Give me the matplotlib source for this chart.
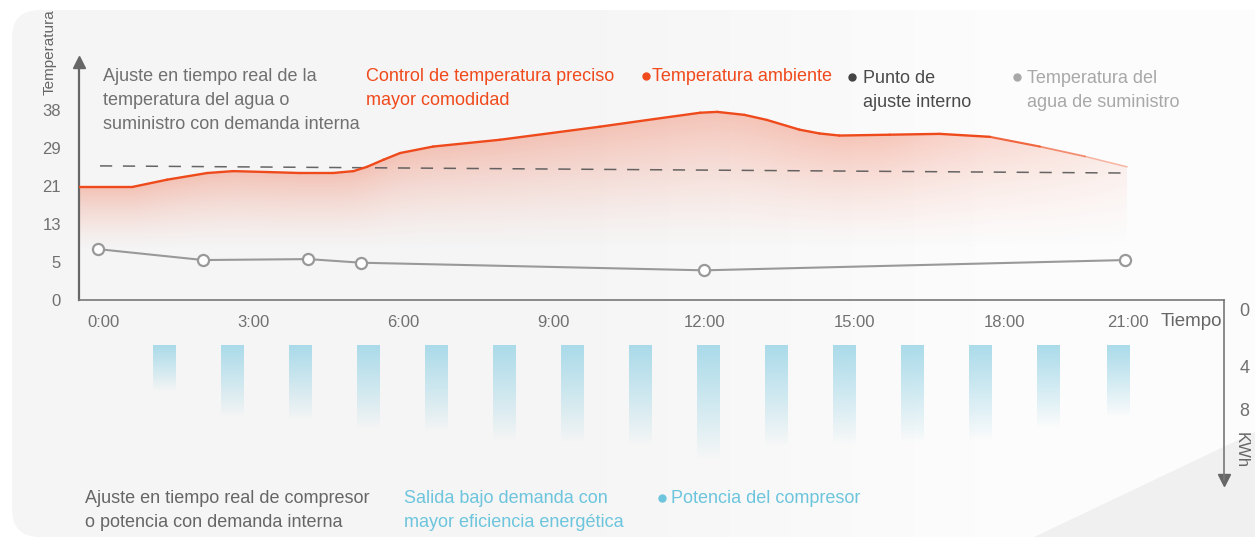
import numpy as np
import matplotlib
matplotlib.use('Agg')
import matplotlib.pyplot as plt
from matplotlib.patches import FancyBboxPatch, Polygon
from matplotlib.collections import LineCollection

plt.rcParams['font.family'] = ['Liberation Sans', 'DejaVu Sans']

W, H = 1255, 539

# --- data ---
temp_ticks = [0, 5, 13, 21, 29, 38]
time_labels = ['0:00', '3:00', '6:00', '9:00', '12:00', '15:00', '18:00', '21:00']
time_ticks = [0, 3, 6, 9, 12, 15, 18, 20.45]

amb_hours = [-0.48, 0.6, 1.28, 2.08, 2.6, 3.3, 3.93, 4.59, 5.0, 5.27, 5.6, 5.93,
             6.59, 7.92, 9.92, 11.0, 11.92, 12.26, 12.8, 13.25, 13.9, 14.3, 14.7,
             15.7, 16.7, 17.7, 18.7, 19.6, 20.44]
amb_temp = [20.8, 20.8, 22.3, 23.7, 24.1, 23.9, 23.7, 23.7, 24.1, 25.0, 26.5, 27.9,
            29.3, 30.9, 34.0, 35.8, 37.3, 37.5, 36.8, 35.6, 33.3, 32.4, 31.9,
            32.1, 32.3, 31.6, 29.3, 27.2, 25.0]

setpoint_hours = [-0.06, 20.4]
setpoint_temp = [25.2, 23.7]

supply_hours = [-0.1, 2.0, 4.1, 5.15, 12.0, 20.4]
supply_temp = [7.7, 5.4, 5.6, 4.9, 3.9, 5.4]

bar_hours = [1.22, 2.58, 3.93, 5.29, 6.65, 8.0, 9.36, 10.72, 12.08, 13.43,
             14.79, 16.15, 17.5, 18.86, 20.26]
bar_kwh = [6.3, 8.7, 9.0, 9.8, 10.1, 11.0, 11.1, 11.4, 12.7, 11.5, 11.3, 11.1,
           11.0, 9.7, 8.7]
bar_start = 2.5
kwh_ticks = [0, 4, 8]


def fx(x):
    return x / W


def fy(y):
    return 1 - y / H


# evenly spaced ticks with uneven values -> piecewise scale
t_knots = np.array([0, 5, 13, 21, 29, 38, 47, 56], float)
t_pos = np.arange(len(t_knots), dtype=float)


def t_fwd(v):
    return np.interp(v, t_knots, t_pos)


def t_inv(p):
    return np.interp(p, t_pos, t_knots)


k_knots = np.array([-4, 0, 4, 8, 12, 16, 20], float)
k_pos = np.array([-57, 0, 57, 100, 143, 186, 229], float)


def k_fwd(v):
    return np.interp(v, k_knots, k_pos)


def k_inv(p):
    return np.interp(p, k_pos, k_knots)


fig = plt.figure(figsize=(12.55, 5.39), dpi=100)

# background panel
bg = fig.add_axes([0, 0, 1, 1], zorder=-10)
bg.set_xlim(0, W)
bg.set_ylim(H, 0)
bg.axis('off')
panel = FancyBboxPatch((12, 10), 1300, 527, boxstyle='round,pad=0,rounding_size=28',
                       fc='none', ec='none')
bg.add_patch(panel)
gx = np.linspace(0, 1, 400)
shade = 0.962 + 0.028 * np.clip((gx - 0.45) / 0.35, 0, 1)
grad = np.tile(shade, (50, 1))
im = bg.imshow(np.dstack([grad, grad, grad]), extent=[0, W, H, 0], aspect='auto',
               interpolation='bilinear')
im.set_clip_path(panel)
tri = Polygon([[1255, 432], [1255, 539], [1030, 539]], closed=True,
              fc='#f0f0f0', ec='none')
bg.add_patch(tri)
tri.set_clip_path(panel)

# --- top chart: temperatures ---
x0 = (79 - 103) / 50.1
x1 = (1224 - 103) / 50.1
ax = fig.add_axes([fx(79), fy(300), (1224 - 79) / W, (300 - 62) / H])
ax.patch.set_alpha(0)
ax.set_yscale('function', functions=(t_fwd, t_inv))
ax.set_xlim(x0, x1)
ax.set_ylim(0, 49.3)

poly = ax.fill_between(amb_hours, 0, amb_temp, color='none', lw=0)
pts = ax.transAxes.inverted().transform(
    ax.transData.transform(np.column_stack([amb_hours, amb_temp])))
xs = np.linspace(0, 1, 600)
ys = np.linspace(0, 1, 300)
cf = np.interp(xs, pts[:, 0], pts[:, 1])
f_bot = 0.2
t = np.clip((ys[:, None] - f_bot) / (cf[None, :] - f_bot), 0, 1) ** 1.4
hf = 1 - 0.85 * np.clip((xs - 0.7) / 0.24, 0, 1)
alpha = 0.32 * t * hf[None, :]
rgba = np.zeros((300, 600, 4))
rgba[..., 0] = 0.94
rgba[..., 1] = 0.33
rgba[..., 2] = 0.18
rgba[..., 3] = alpha
gim = ax.imshow(rgba, extent=[0, 1, 0, 1], origin='lower', transform=ax.transAxes,
                aspect='auto', interpolation='bilinear', zorder=1)
gim.set_clip_path(poly.get_paths()[0], poly.get_transform())

# ambient line: segments between the read points, fading at the right end
seg_pts = np.column_stack([amb_hours, amb_temp])
segs = np.stack([seg_pts[:-1], seg_pts[1:]], axis=1)
seg_mid = (seg_pts[:-1, 0] + seg_pts[1:, 0]) / 2
seg_alpha = 1 - 0.75 * np.clip((seg_mid - 17.5) / 3.0, 0, 1)
seg_cols = [(0.933, 0.29, 0.11, a) for a in seg_alpha]
seg_lw = 1.7 - 0.7 * np.clip((seg_mid - 17.5) / 3.0, 0, 1)
lc = LineCollection(segs, colors=seg_cols, linewidths=seg_lw, zorder=3,
                    capstyle='round', joinstyle='round')
ax.add_collection(lc)

ax.plot(setpoint_hours, setpoint_temp, color='#555555', lw=1.1, dashes=(8, 7),
        zorder=2, alpha=0.9)
ax.plot(supply_hours, supply_temp, color='#999999', lw=1.5, marker='o', ms=8,
        mfc='white', mec='#999999', mew=1.6, zorder=4)

ax.set_yticks(temp_ticks)
ax.set_yticklabels([str(v) for v in temp_ticks])
ax.set_xticks(time_ticks)
ax.set_xticklabels(time_labels)
ax.tick_params(axis='y', length=0, pad=13, labelsize=12, labelcolor='#707070')
ax.tick_params(axis='x', length=0, pad=11, labelsize=12, labelcolor='#707070')
for s in ['top', 'right']:
    ax.spines[s].set_visible(False)
ax.spines['left'].set_color('#666666')
ax.spines['left'].set_linewidth(1.6)
ax.spines['bottom'].set_color('#777777')
ax.spines['bottom'].set_linewidth(1.2)
ax.plot([0], [1], marker='^', ms=9, color='#666666', transform=ax.transAxes,
        clip_on=False)

# --- bottom chart: compressor power ---
ax2 = fig.add_axes([fx(79), fy(480), (1224 - 79) / W, (480 - 300) / H])
ax2.patch.set_alpha(0)
ax2.set_yscale('function', functions=(k_fwd, k_inv))
ax2.set_xlim(x0, x1)
ax2.set_ylim(14.6, -0.7)
bars = ax2.bar(bar_hours, np.array(bar_kwh) - bar_start, bottom=bar_start,
               width=0.44, color='none', lw=0)
grad_b = np.zeros((100, 2, 4))
gb = np.linspace(0, 1, 100)
grad_b[..., 0] = 0.64
grad_b[..., 1] = 0.85
grad_b[..., 2] = 0.91
grad_b[..., 3] = (0.92 * gb ** 0.95)[:, None]
to_axes = ax2.transAxes.inverted()
for rect in bars:
    bx = rect.get_x()
    bw = rect.get_width()
    (ax_l, ax_top), (ax_r, ax_bot) = to_axes.transform(
        ax2.transData.transform([[bx, bar_start], [bx + bw, bar_start + rect.get_height()]]))
    bim = ax2.imshow(grad_b, extent=[ax_l, ax_r, ax_bot, ax_top], origin='lower',
                     transform=ax2.transAxes, aspect='auto', interpolation='bilinear')
    bim.set_clip_path(rect)

for s in ['top', 'left', 'bottom']:
    ax2.spines[s].set_visible(False)
ax2.spines['right'].set_color('#777777')
ax2.spines['right'].set_linewidth(1.2)
ax2.set_xticks([])
ax2.yaxis.tick_right()
ax2.set_yticks(kwh_ticks)
ax2.set_yticklabels([str(v) for v in kwh_ticks])
ax2.tick_params(axis='y', length=0, pad=11, labelsize=13, labelcolor='#707070')
ax2.plot([1], [0], marker='v', ms=9, color='#666666', transform=ax2.transAxes,
         clip_on=False)

# --- texts ---
fs = 13
ls = 1.55
fig.text(fx(50), fy(52), 'Temperatura', rotation=90, ha='center', va='center',
         fontsize=11, color='#666666')
fig.text(fx(103), fy(68), 'Ajuste en tiempo real de la\ntemperatura del agua o\n'
         'suministro con demanda interna', ha='left', va='top', fontsize=fs,
         color='#707070', linespacing=ls)
fig.text(fx(366), fy(68), 'Control de temperatura preciso\nmayor comodidad',
         ha='left', va='top', fontsize=fs, color='#f04a1c', linespacing=ls)
fig.text(fx(652), fy(68), 'Temperatura ambiente', ha='left', va='top', fontsize=fs,
         color='#f04a1c')
fig.text(fx(863), fy(70), 'Punto de\najuste interno', ha='left', va='top',
         fontsize=fs, color='#4a4a4a', linespacing=ls)
fig.text(fx(1027), fy(70), 'Temperatura del\nagua de suministro', ha='left',
         va='top', fontsize=fs, color='#a8a8a8', linespacing=ls)
fig.text(fx(85), fy(490), 'Ajuste en tiempo real de compresor\no potencia con demanda interna',
         ha='left', va='top', fontsize=fs, color='#666666', linespacing=ls)
fig.text(fx(404), fy(490), 'Salida bajo demanda con\nmayor eficiencia energética',
         ha='left', va='top', fontsize=fs, color='#6cc5dd', linespacing=ls)
fig.text(fx(671), fy(490), 'Potencia del compresor', ha='left', va='top',
         fontsize=fs, color='#6cc5dd')
fig.text(fx(1161), fy(321), 'Tiempo', ha='left', va='center', fontsize=13.5,
         color='#666666')
fig.text(fx(1241), fy(450), 'KWh', rotation=-90, ha='center', va='center',
         fontsize=12, color='#666666')

bg.plot([646], [76], 'o', ms=5, color='#f04a1c')
bg.plot([852], [77], 'o', ms=5, color='#444444')
bg.plot([1017], [77], 'o', ms=5, color='#a8a8a8')
bg.plot([662], [498], 'o', ms=5, color='#6cc5dd')

fig.savefig('out.png', dpi=100)
